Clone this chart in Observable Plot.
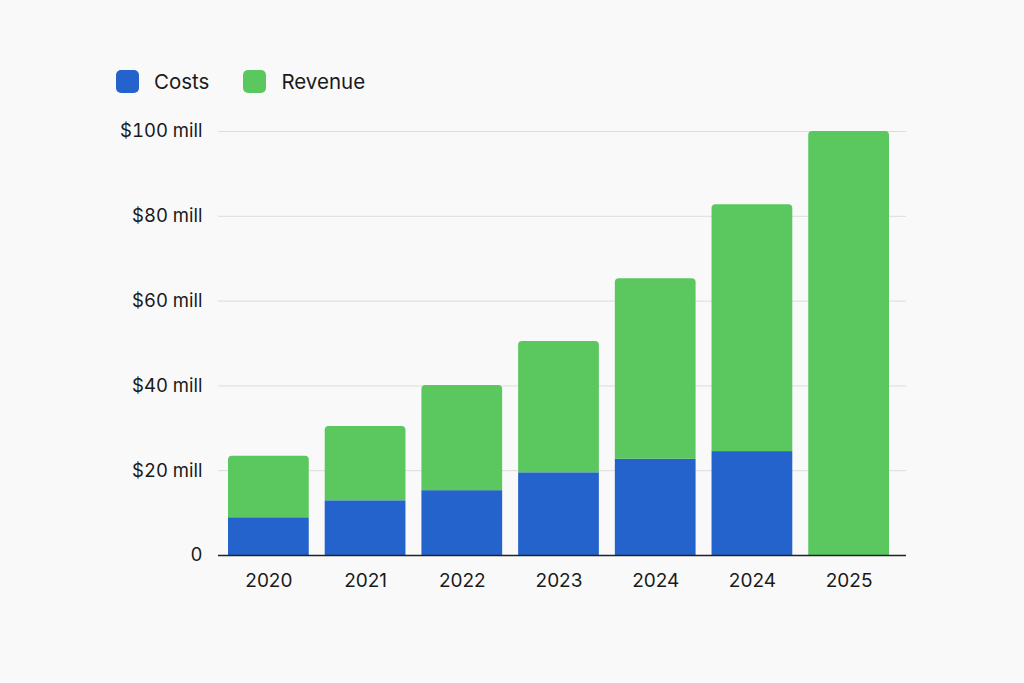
<!DOCTYPE html>
<html>
<head>
<meta charset="utf-8">
<script src="https://cdn.jsdelivr.net/npm/d3@7"></script>
<script src="https://cdn.jsdelivr.net/npm/@observablehq/plot@0.6"></script>
<style>
  html, body { margin: 0; padding: 0; background: #f9f9f9; }
  body { width: 1024px; height: 683px; position: relative; overflow: hidden; font-family: Inter, Roboto, sans-serif; }
  #legend { position: absolute; left: 116px; top: 69px; display: flex; align-items: center; font-size: 20.5px; color: #1a1a1a; }
  .item { display: flex; align-items: center; margin-right: 34px; }
  .sw { width: 23px; height: 23px; border-radius: 5px; margin-right: 15px; }
  #chart { position: absolute; left: 0; top: 0; }
</style>
</head>
<body>
<div id="legend"></div>
<div id="chart"></div>
<script>
const categories = ["2020", "2021", "2022", "2023", "2024", "2024", "2025"];
const costs = [8.9, 12.9, 15.3, 19.5, 22.7, 24.5, 0];
const revenue = [14.5, 17.5, 24.8, 31.0, 42.6, 58.2, 100];
const series = ["Costs", "Revenue"];
const colors = ["#2563cc", "#5bc75f"];
const yTicks = [0, 20, 40, 60, 80, 100];

const keys = categories.map((c, i) => i);
const costData = keys.map(i => ({i, y1: 0, y2: costs[i]}));
const revData = keys.map(i => ({i, y1: costs[i], y2: costs[i] + revenue[i]}));

const legend = document.getElementById("legend");
series.forEach((s, k) => {
  const it = document.createElement("div");
  it.className = "item";
  it.innerHTML = `<div class="sw" style="background:${colors[k]}"></div><span>${s}</span>`;
  legend.appendChild(it);
});

const chart = Plot.plot({
  width: 1024,
  height: 683,
  marginLeft: 218,
  marginRight: 118,
  marginTop: 131,
  marginBottom: 128,
  style: {background: "transparent", fontFamily: "Inter, Roboto, sans-serif", fontSize: "18px", color: "#1a1a1a"},
  x: {domain: keys, paddingInner: 0.165, paddingOuter: 0, insetLeft: 10, insetRight: 17, round: false, label: null},
  y: {domain: [0, 100], label: null},
  marks: [
    Plot.ruleY(yTicks.filter(d => d > 0), {stroke: "#dcdcdc", strokeWidth: 1}),
    Plot.rectY(costData, {x: "i", y1: "y1", y2: "y2", fill: colors[0]}),
    Plot.rectY(revData, {x: "i", y1: "y1", y2: "y2", fill: colors[1], ry2: 4}),
    Plot.ruleY([0], {stroke: "#222", strokeWidth: 1.3}),
    Plot.axisY({ticks: yTicks, tickSize: 0, tickPadding: 16, tickFormat: d => d === 0 ? "0" : `$${d} mill`, fontSize: 18.5, label: null}),
    Plot.axisX({tickSize: 0, tickPadding: 18, tickFormat: i => categories[i], fontSize: 19, label: null})
  ]
});
document.getElementById("chart").appendChild(chart);
</script>
</body>
</html>
